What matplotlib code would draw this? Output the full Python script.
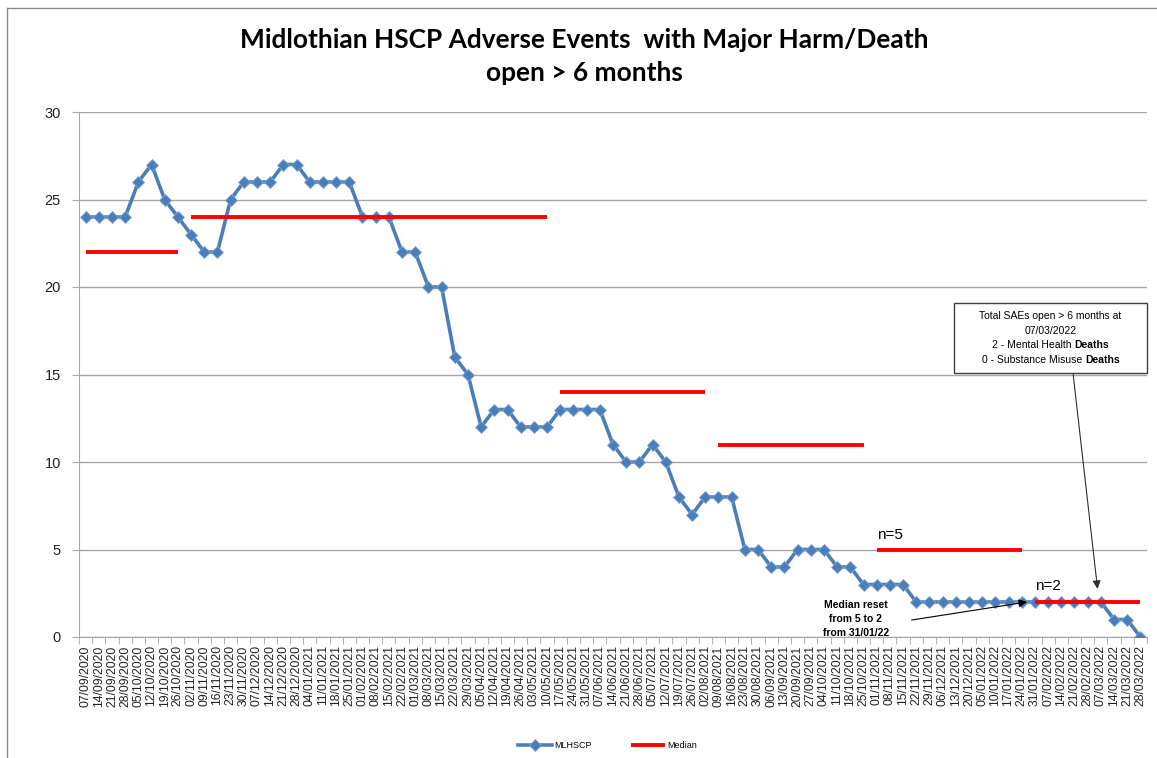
import matplotlib
matplotlib.use("Agg")
import matplotlib.pyplot as plt
from matplotlib.lines import Line2D

dates = [
    "07/09/2020", "14/09/2020", "21/09/2020", "28/09/2020", "05/10/2020", "12/10/2020",
    "19/10/2020", "26/10/2020", "02/11/2020", "09/11/2020", "16/11/2020", "23/11/2020",
    "30/11/2020", "07/12/2020", "14/12/2020", "21/12/2020", "28/12/2020",
    "04/01/2021", "11/01/2021", "18/01/2021", "25/01/2021", "01/02/2021", "08/02/2021",
    "15/02/2021", "22/02/2021", "01/03/2021", "08/03/2021", "15/03/2021", "22/03/2021",
    "29/03/2021", "05/04/2021", "12/04/2021", "19/04/2021", "26/04/2021", "03/05/2021",
    "10/05/2021", "17/05/2021", "24/05/2021", "31/05/2021", "07/06/2021", "14/06/2021",
    "21/06/2021", "28/06/2021", "05/07/2021", "12/07/2021", "19/07/2021", "26/07/2021",
    "02/08/2021", "09/08/2021", "16/08/2021", "23/08/2021", "30/08/2021", "06/09/2021",
    "13/09/2021", "20/09/2021", "27/09/2021", "04/10/2021", "11/10/2021", "18/10/2021",
    "25/10/2021", "01/11/2021", "08/11/2021", "15/11/2021", "22/11/2021", "29/11/2021",
    "06/12/2021", "13/12/2021", "20/12/2021",
    "05/01/2022", "10/01/2022", "17/01/2022", "24/01/2022", "31/01/2022", "07/02/2022",
    "14/02/2022", "21/02/2022", "28/02/2022", "07/03/2022", "14/03/2022", "21/03/2022",
    "28/03/2022",
]

mlhscp = [
    24, 24, 24, 24, 26, 27, 25, 24, 23, 22, 22, 25, 26, 26, 26, 27, 27,
    26, 26, 26, 26, 24, 24, 24, 22, 22, 20, 20, 16, 15, 12, 13, 13, 12,
    12, 12, 13, 13, 13, 13, 11, 10, 10, 11, 10, 8, 7, 8, 8, 8, 5, 5,
    4, 4, 5, 5, 5, 4, 4, 3, 3, 3, 3, 2, 2, 2, 2, 2,
    2, 2, 2, 2, 2, 2, 2, 2, 2, 2, 1, 1, 0,
]

median_values = [22, 24, 14, 11, 5, 2]
median_from = ["07/09/2020", "02/11/2020", "17/05/2021", "09/08/2021", "01/11/2021", "31/01/2022"]
median_to = ["26/10/2020", "10/05/2021", "02/08/2021", "25/10/2021", "24/01/2022", "28/03/2022"]

W, H = 1157, 758
fig = plt.figure(figsize=(W / 100, H / 100), dpi=100)
# outer chart border (left and top edges visible)
fig.add_artist(Line2D([6.5 / W, 6.5 / W], [0, 1 - 8 / H], transform=fig.transFigure,
                      color="#8C8C8C", linewidth=1))
fig.add_artist(Line2D([6.5 / W, 1], [1 - 8 / H, 1 - 8 / H], transform=fig.transFigure,
                      color="#8C8C8C", linewidth=1))

ax = fig.add_axes([79 / W, 1 - 637 / H, (1147 - 79) / W, (637 - 112) / H])
n = len(dates)
x = list(range(n))

blue = "#4A7EBB"
red = "#FF0000"

ax.plot(x, mlhscp, color=blue, linewidth=2.6, marker="D", markersize=6.5,
        markerfacecolor=blue, markeredgecolor="#7FA6D6", markeredgewidth=0.6,
        label="MLHSCP", zorder=3)
for i, (v, a, b) in enumerate(zip(median_values, median_from, median_to)):
    ia, ib = dates.index(a), dates.index(b)
    ax.plot([ia, ib], [v, v], color=red, linewidth=2.8,
            label="Median" if i == 0 else None, zorder=4, solid_capstyle="butt")

ax.set_xlim(-0.5, n - 0.5)
ax.set_ylim(0, 30)
ax.set_yticks([0, 5, 10, 15, 20, 25, 30])
ax.yaxis.grid(True, color="#A6A6A6", linewidth=1)
ax.set_axisbelow(True)
for s in ["top", "right"]:
    ax.spines[s].set_visible(False)
ax.spines["left"].set_color("#A6A6A6")
ax.spines["bottom"].set_color("#A6A6A6")
ax.tick_params(axis="y", length=5, color="#A6A6A6", labelsize=10.5, pad=8,
               labelcolor="#222222", labelfontfamily="Liberation Sans")
ax.set_xticks(x)
ax.set_xticklabels(dates, rotation=90, fontsize=8.8, fontfamily="Liberation Sans",
                   color="#222222")
ax.tick_params(axis="x", which="major", length=0, pad=6)
ax.set_xticks([i - 0.5 for i in range(n + 1)], minor=True)
ax.tick_params(axis="x", which="minor", length=5, color="#A6A6A6")

fig.text(0.505, 1 - 40 / H, "Midlothian HSCP Adverse Events  with Major Harm/Death",
         ha="center", va="center", fontsize=18.9, fontweight="bold", fontfamily="Lato")
fig.text(0.505, 1 - 73 / H, "open > 6 months",
         ha="center", va="center", fontsize=18.9, fontweight="bold", fontfamily="Lato")

ax.text(dates.index("01/11/2021"), 5.45, "n=5", fontsize=11, ha="left", va="bottom",
        fontfamily="Liberation Sans")
ax.text(dates.index("31/01/2022"), 2.5, "n=2", fontsize=11, ha="left", va="bottom",
        fontfamily="Liberation Sans")

ax.text(58.4, 1.0, "Median reset\nfrom 5 to 2\nfrom 31/01/22",
        fontsize=7.5, fontweight="bold", ha="center", va="center", linespacing=1.5,
        fontfamily="Liberation Sans")
ax.annotate("", xy=(71.4, 2.0), xytext=(62.65, 0.97),
            arrowprops=dict(arrowstyle="-|>", color="black", lw=0.8,
                            mutation_scale=12, shrinkA=0, shrinkB=0))

# callout box
bx0, by0, bx1, by1 = 954, 303, 1147, 373
cxp = (bx0 + bx1) / 2
lines = [("Total SAEs open > 6 months at", None), ("07/03/2022", None),
         ("2 - Mental Health ", "Deaths"), ("0 - Substance Misuse ", "Deaths")]
ys = [316, 331, 345, 360]
box_fs = 7.5
fig.add_artist(plt.Rectangle((bx0 / W, 1 - by1 / H), (bx1 - bx0) / W, (by1 - by0) / H,
                             transform=fig.transFigure, facecolor="white",
                             edgecolor="#404040", linewidth=1, zorder=5))
fig.canvas.draw()
r = fig.canvas.get_renderer()
for (t1, t2), yy in zip(lines, ys):
    if t2 is None:
        fig.text(cxp / W, 1 - yy / H, t1, ha="center", va="center", fontsize=box_fs,
                 fontfamily="Liberation Sans", zorder=6)
    else:
        a = fig.text(0, 1 - yy / H, t1, ha="left", va="center", fontsize=box_fs,
                     fontfamily="Liberation Sans", zorder=6)
        b = fig.text(0, 1 - yy / H, t2, ha="left", va="center", fontsize=box_fs,
                     fontweight="bold", fontfamily="Liberation Sans", zorder=6)
        wa = a.get_window_extent(r).width
        wb = b.get_window_extent(r).width
        start = cxp - (wa + wb) / 2
        a.set_x(start / W)
        b.set_x((start + wa) / W)

ax.annotate("", xy=(dates.index("07/03/2022") - 0.25, 2.75),
            xytext=(1073, H - 373), textcoords="figure pixels",
            arrowprops=dict(arrowstyle="-|>", color="#303030", lw=0.8,
                            mutation_scale=12, shrinkA=0, shrinkB=0))

fig.legend(loc="center", bbox_to_anchor=(0.525, 1 - 746 / H), ncol=2, frameon=False,
           handlelength=3.8, columnspacing=4.4, handletextpad=0.2,
           prop={"family": "Liberation Sans", "size": 6.5})

fig.savefig("out.png", dpi=100)
